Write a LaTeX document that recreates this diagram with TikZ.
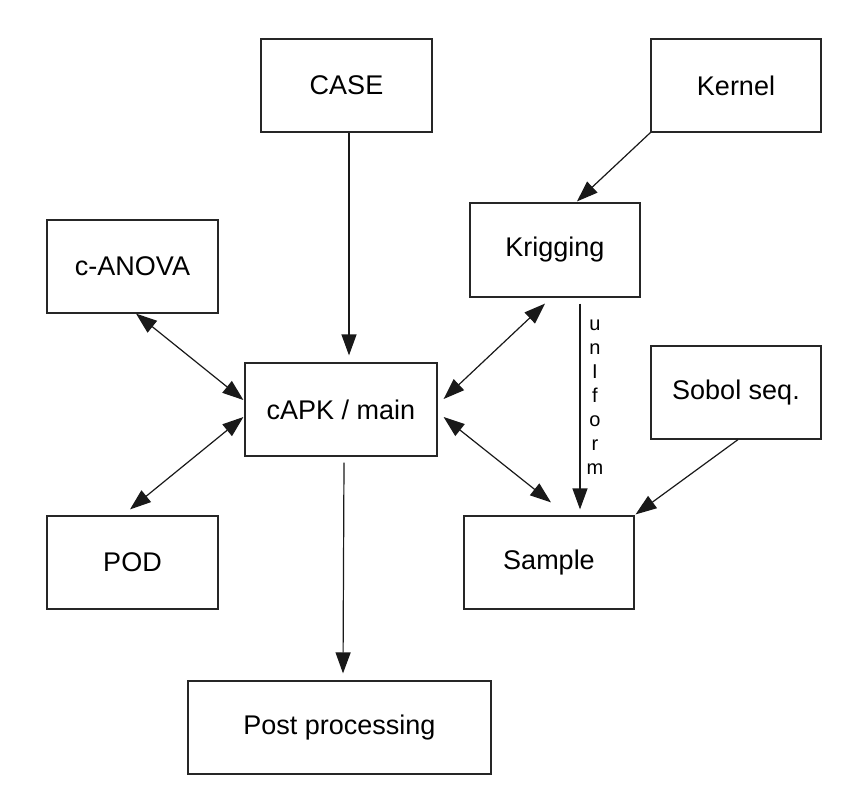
\documentclass[tikz,border=0pt]{standalone}
\usepackage{fontspec}
\setmainfont{Liberation Sans}
\usetikzlibrary{arrows.meta}
\begin{document}
\begin{tikzpicture}[x=1pt,y=-1pt,
  box/.style={draw=black!85, line width=1.2pt, minimum height=93pt, minimum width=171pt, inner sep=0pt,
    font=\fontsize{27}{32}\selectfont},
  conn/.style={draw=black!90, line width=1.2pt},
  tip/.style={conn,-{Triangle[length=21pt,width=15pt]}},
  both/.style={conn,{Triangle[length=21pt,width=15pt]}-{Triangle[length=21pt,width=15pt]}}]
\useasboundingbox[fill=white] (0,0) rectangle (844,785);
\node[box] (case) at (346.5,85.5) {CASE};
\node[box, minimum width=170pt] (kernel) at (736,85.5) {Kernel};
\node[box, minimum width=170pt, minimum height=94pt] (krig) at (555,250) {Krigging};
\node[box] (canova) at (132.5,266.5) {c-ANOVA};
\node[box, minimum width=192pt] (capk) at (341,409.5) {cAPK / main};
\node[box, minimum width=170pt] (sobol) at (736,392.5) {Sobol seq.};
\node[box] (pod) at (132.5,562.5) {POD};
\node[box, minimum width=170pt] (sample) at (549,562.5) {Sample};
\node[box, minimum width=303pt] (post) at (339.5,727.5) {Post processing};

\draw[tip] ([shift={(2.5,0)}]case.south) -- ([shift={(8,-7)}]capk.north);
\draw[tip] ([shift={(3,6)}]capk.south) -- ([shift={(3.5,-7)}]post.north);
\draw[tip] (kernel.south west) -- ([shift={(22,-1)}]krig.north);
\draw[tip] ([shift={(2,0)}]sobol.south) -- ([shift={(1,-1)}]sample.north east);
\draw[tip] ([shift={(25,6)}]krig.south) -- node[pos=0.455, xshift=15pt, align=center, inner sep=0pt,
    font=\fontsize{20}{24}\selectfont] (unif) {u\\n\\I\\f\\o\\r\\m} ([shift={(31,-6)}]sample.north);
\draw[both] ([shift={(3.5,0)}]canova.south) -- ([shift={(-1,-9.5)}]capk.west);
\draw[both] ([shift={(-1,7.5)}]capk.west) -- ([shift={(-2.5,-6)}]pod.north);
\draw[both] ([shift={(-10,6)}]krig.south) -- ([shift={(6,-10.5)}]capk.east);
\draw[both] ([shift={(6,7.5)}]capk.east) -- ([shift={(2,-13)}]sample.north);
\end{tikzpicture}
\end{document}
